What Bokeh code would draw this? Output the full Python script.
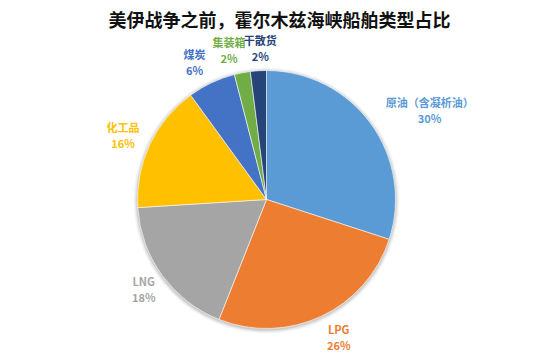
import math
from bokeh.plotting import figure
from bokeh.models import Range1d, Label, ColumnDataSource
from bokeh.core.properties import value
from bokeh.embed import file_html
from bokeh.resources import INLINE

# ---- data ----
categories = ["原油（含凝析油）", "LPG", "LNG", "化工品", "煤炭", "集装箱", "干散货"]
shares = [30, 26, 18, 16, 6, 2, 2]
pct_labels = ["30%", "26%", "18%", "16%", "6%", "2%", "2%"]
colors = ["#5B9BD5", "#ED7D31", "#A5A5A5", "#FFC000", "#4472C4", "#70AD47", "#264478"]
title_text = "美伊战争之前，霍尔木兹海峡船舶类型占比"

W, H = 550, 353
CX, CY, R = 266, 199, 129   # screen px (y down)
FONT = "Noto Sans CJK SC"

p = figure(width=W, height=H, output_backend="svg", toolbar_location=None,
           x_range=Range1d(0, W), y_range=Range1d(0, H), min_border=0)
p.axis.visible = False
p.grid.visible = False
p.outline_line_color = None
p.background_fill_color = "white"

cy = H - CY
total = float(sum(shares))
starts, ends, mids = [], [], []
cum = 0.0
for v in shares:
    a0 = cum / total
    cum += v
    a1 = cum / total
    starts.append(math.pi / 2 - 2 * math.pi * a1)
    ends.append(math.pi / 2 - 2 * math.pi * a0)
    mids.append(2 * math.pi * (a0 + a1) / 2)

# soft shadow
for dr, al in [(4, 0.03), (3, 0.04), (2, 0.06), (1, 0.08)]:
    p.circle(x=[CX], y=[cy - 1], radius=R + dr, fill_color="black", fill_alpha=al,
             line_color=None)

src = ColumnDataSource(dict(cat=categories, start=starts, end=ends, color=colors))
p.wedge(x=CX, y=cy, radius=R, start_angle="start", end_angle="end",
        fill_color="color", line_color="white", line_width=0.6, source=src)

# labels
def text_width(s):
    return sum(6.5 if ord(ch) < 128 else 11.5 for ch in s)

nudge_x = [8, 6, 3, 4, -5, -7, 4]
lx, ly1, ly2 = [], [], []
RL = R * 1.13
for cat, m, nx in zip(categories, mids, nudge_x):
    s, c = math.sin(m), math.cos(m)
    hw = text_width(cat) / 2
    x = CX + RL * s + hw * s + nx
    yc = CY - RL * c - 6 * c
    lx.append(x)
    ly1.append(H - (yc - 8))
    ly2.append(H - (yc + 8))

lsrc = ColumnDataSource(dict(x=lx, y1=ly1, y2=ly2, cat=categories, pct=pct_labels, color=colors))
p.text(x="x", y="y1", text="cat", text_color="color", text_font=value(FONT),
       text_font_size="11px", text_font_style="bold", text_align="center",
       text_baseline="middle", source=lsrc)
p.text(x="x", y="y2", text="pct", text_color="color", text_font=value(FONT),
       text_font_size="11px", text_font_style="bold", text_align="center",
       text_baseline="middle", source=lsrc)

p.add_layout(Label(x=279, y=H - 18, text=title_text, text_font=FONT,
                   text_font_size="18px", text_font_style="bold", text_color="#111111",
                   text_align="center", text_baseline="middle"))

open("out.html", "w").write(file_html(p, INLINE))
